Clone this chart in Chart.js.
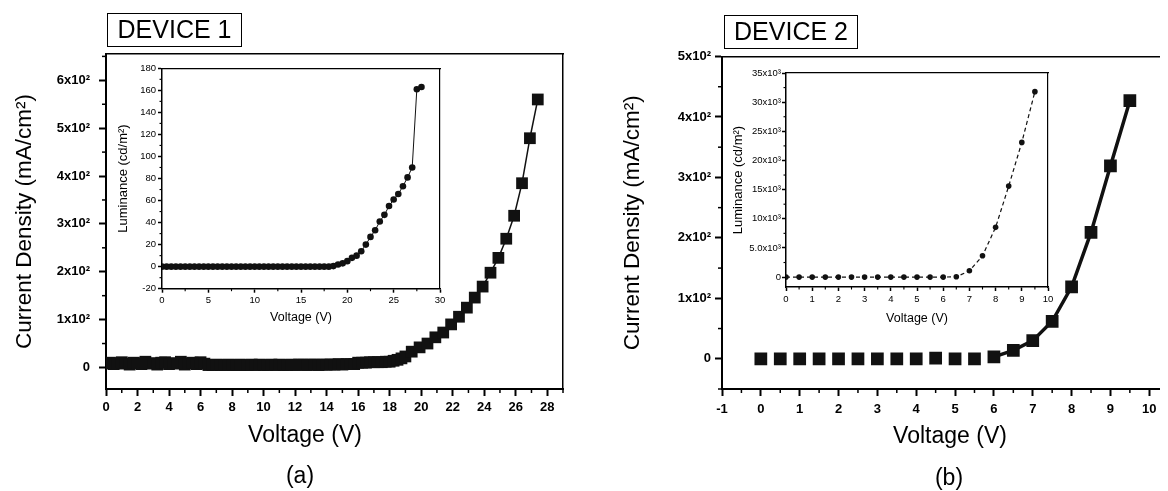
<!DOCTYPE html>
<html>
<head>
<meta charset="utf-8">
<title>Device 1 / Device 2 J-V and L-V</title>
<script src="https://cdn.jsdelivr.net/npm/chart.js@4.4.0/dist/chart.umd.min.js"></script>
<style>
html, body { margin: 0; padding: 0; background: #fff; }
body { width: 1168px; height: 491px; position: relative; overflow: hidden;
       font-family: "Liberation Sans", Arial, sans-serif; color: #000; }
canvas { position: absolute; }
.tag { position: absolute; box-sizing: border-box; border: 1.5px solid #000;
       font-size: 25px; text-align: center; line-height: 31px; }
.lbl { position: absolute; font-size: 23px; line-height: 1; white-space: nowrap;
       transform: translate(-50%, -50%); }
</style>
</head>
<body>
<canvas id="main1" width="580" height="491" style="left:0;top:0"></canvas>
<canvas id="inset1" width="355" height="280" style="left:100px;top:55px"></canvas>
<canvas id="main2" width="578" height="491" style="left:590px;top:0"></canvas>
<canvas id="inset2" width="345" height="275" style="left:720px;top:60px"></canvas>

<div class="tag" style="left:107px;top:13px;width:135px;height:34px">DEVICE 1</div>
<div class="tag" style="left:724px;top:15px;width:134px;height:34px">DEVICE 2</div>
<div class="lbl" style="left:305px;top:434px">Voltage (V)</div>
<div class="lbl" style="left:300px;top:475px">(a)</div>
<div class="lbl" style="left:950px;top:435px">Voltage (V)</div>
<div class="lbl" style="left:949px;top:477px">(b)</div>

<script>
// ---- device 1, current density vs voltage (main plot a)
const dev1Volt = [
  0, 0.25, 0.5, 0.75, 1, 1.25, 1.5, 1.75, 2, 2.25, 2.5, 2.75, 3, 3.25, 3.5, 3.75,
  4, 4.25, 4.5, 4.75, 5, 5.25, 5.5, 5.75, 6, 6.25,
  6.5, 6.75, 7, 7.25, 7.5, 7.75, 8, 8.25, 8.5, 8.75, 9, 9.25, 9.5, 9.75,
  10, 10.25, 10.5, 10.75, 11, 11.25, 11.5, 11.75, 12, 12.25, 12.5, 12.75,
  13, 13.25, 13.5, 13.75, 14, 14.25, 14.5, 14.75, 15, 15.25, 15.5, 15.75,
  16, 16.25, 16.5, 16.75, 17, 17.25, 17.5, 17.75, 18, 18.25, 18.5, 18.75, 19,
  19.4, 19.9, 20.4, 20.9, 21.4, 21.9, 22.4, 22.9, 23.4, 23.9, 24.4, 24.9,
  25.4, 25.9, 26.4, 26.9, 27.4
];
const dev1Current = [
  8, 10, 7, 9, 11, 8, 6, 10, 9, 7, 12, 8, 9, 6, 10, 11,
  7, 9, 8, 12, 6, 9, 10, 7, 11, 8,
  5, 5, 6, 5, 5, 6, 5, 5, 6, 5, 5, 6, 5, 6,
  5, 5, 6, 5, 6, 5, 5, 6, 5, 6, 6, 5,
  6, 6, 5, 6, 6, 6, 6, 7, 6, 7, 7, 7,
  10, 10, 10, 11, 11, 11, 11, 12, 12, 14, 16, 19, 23,
  33, 42, 50, 63, 73, 90, 106, 125, 146, 169, 198, 229,
  269, 317, 385, 479, 560
];
const dev1XTicks = [0, 2, 4, 6, 8, 10, 12, 14, 16, 18, 20, 22, 24, 26, 28];
const dev1YTicks = [0, 100, 200, 300, 400, 500, 600];
const dev1YLabels = ['0', '1x10\u00b2', '2x10\u00b2', '3x10\u00b2', '4x10\u00b2', '5x10\u00b2', '6x10\u00b2'];

// ---- device 1, luminance inset
const dev1LumVolt = [
  0, 0.5, 1, 1.5, 2, 2.5, 3, 3.5, 4, 4.5, 5, 5.5, 6, 6.5, 7, 7.5, 8, 8.5, 9, 9.5,
  10, 10.5, 11, 11.5, 12, 12.5, 13, 13.5, 14, 14.5, 15, 15.5, 16, 16.5, 17, 17.5, 18,
  18.5, 19, 19.5, 20, 20.5, 21, 21.5, 22, 22.5, 23, 23.5, 24, 24.5, 25, 25.5,
  26, 26.5, 27, 27.5, 28
];
const dev1Lum = [
  0, 0, 0, 0, 0, 0, 0, 0, 0, 0, 0, 0, 0, 0, 0, 0, 0, 0, 0, 0,
  0, 0, 0, 0, 0, 0, 0, 0, 0, 0, 0, 0, 0, 0, 0, 0, 0,
  0.5, 2, 3, 5, 8, 10, 14, 20, 27, 33, 41, 47, 55, 61, 66,
  73, 81, 90, 161, 163
];
const dev1LumXTicks = [0, 5, 10, 15, 20, 25, 30];
const dev1LumYTicks = [-20, 0, 20, 40, 60, 80, 100, 120, 140, 160, 180];

// ---- device 2, current density vs voltage (main plot b)
const dev2Volt = [0, 0.5, 1, 1.5, 2, 2.5, 3, 3.5, 4, 4.5, 5, 5.5, 6, 6.5, 7, 7.5, 8, 8.5, 9, 9.5];
const dev2Current = [0, 0, 0, 0, 0, 0, 0, 0, 0, 1, 0, 0, 3, 14, 30, 62, 119, 209, 319, 427];
const dev2XTicks = [-1, 0, 1, 2, 3, 4, 5, 6, 7, 8, 9, 10];
const dev2YTicks = [0, 100, 200, 300, 400, 500];
const dev2YLabels = ['0', '1x10\u00b2', '2x10\u00b2', '3x10\u00b2', '4x10\u00b2', '5x10\u00b2'];

// ---- device 2, luminance inset
const dev2LumVolt = [0, 0.5, 1, 1.5, 2, 2.5, 3, 3.5, 4, 4.5, 5, 5.5, 6, 6.5, 7, 7.5, 8, 8.5, 9, 9.5];
const dev2Lum = [0, 0, 0, 0, 0, 0, 0, 0, 0, 0, 0, 0, 0, 50, 1080, 3650, 8530, 15600, 23100, 31800];
const dev2LumXTicks = [0, 1, 2, 3, 4, 5, 6, 7, 8, 9, 10];
const dev2LumYTicks = [0, 5000, 10000, 15000, 20000, 25000, 30000, 35000];
const dev2LumYLabels = ['0', '5.0x10\u00b3', '10x10\u00b3', '15x10\u00b3', '20x10\u00b3', '25x10\u00b3', '30x10\u00b3', '35x10\u00b3'];

Chart.defaults.font.family = '"Liberation Sans", Arial, sans-serif';
Chart.defaults.color = '#000';

const toPoints = (xs, ys) => xs.map((v, i) => ({ x: v, y: ys[i] }));

// origin style minor ticks, drawn between the majors
const minorTicks = {
  id: 'minorTicks',
  afterDraw(chart, args, opts) {
    const ctx = chart.ctx;
    const area = chart.chartArea;
    ctx.save();
    ctx.strokeStyle = '#000';
    ctx.lineWidth = opts.width;
    ['x', 'y'].forEach(id => {
      const step = opts[id];
      if (!step) return;
      const scale = chart.scales[id];
      const major = scale.ticks.map(t => t.value);
      const n0 = Math.ceil(scale.min / step - 1e-9);
      const n1 = Math.floor(scale.max / step + 1e-9);
      for (let i = n0; i <= n1; i++) {
        const v = i * step;
        if (major.some(m => Math.abs(m - v) < step / 10)) continue;
        const p = scale.getPixelForValue(v);
        ctx.beginPath();
        if (id === 'x') {
          ctx.moveTo(p, area.bottom);
          ctx.lineTo(p, area.bottom + opts.len);
        } else {
          ctx.moveTo(area.left, p);
          ctx.lineTo(area.left - opts.len, p);
        }
        ctx.stroke();
      }
    });
    ctx.restore();
  }
};

// top / right frame lines
function frameAxis(pos, width) {
  return {
    type: 'linear',
    position: pos,
    display: true,
    ticks: { display: false },
    grid: { display: false, drawTicks: false },
    border: { display: true, color: '#000', width: width },
    afterFit: s => { if (pos === 'top') s.height = 0; else s.width = 0; }
  };
}

function makeChart(id, cfg) {
  const tickFont = { size: cfg.tickSize, weight: cfg.tickWeight || 'normal' };
  const scales = {
    x: {
      type: 'linear',
      min: cfg.xMin, max: cfg.xMax,
      afterBuildTicks: s => { s.ticks = cfg.xTicks.map(v => ({ value: v })); },
      afterFit: s => { s.height = cfg.xH; },
      ticks: { font: tickFont, padding: cfg.xPad, maxRotation: 0,
               callback: v => String(v) },
      grid: { drawOnChartArea: false, drawTicks: true, tickLength: cfg.tickLen,
              tickWidth: cfg.axisW, tickColor: '#000' },
      border: { display: true, color: '#000', width: cfg.axisW },
      title: cfg.xTitle ? { display: true, text: cfg.xTitle, font: { size: cfg.xTitleSize },
               padding: { top: 0, bottom: cfg.xTitlePad } } : { display: false }
    },
    y: {
      type: 'linear',
      min: cfg.yMin, max: cfg.yMax,
      afterBuildTicks: s => { s.ticks = cfg.yTicks.map(v => ({ value: v })); },
      afterFit: s => { s.width = cfg.yW; },
      ticks: { font: tickFont, padding: cfg.yPad,
               callback: (v, i) => cfg.yLabels ? cfg.yLabels[i] : String(v) },
      grid: { drawOnChartArea: false, drawTicks: true, tickLength: cfg.tickLen,
              tickWidth: cfg.axisW, tickColor: '#000' },
      border: { display: true, color: '#000', width: cfg.axisW },
      title: { display: true, text: cfg.yTitle, font: { size: cfg.yTitleSize },
               padding: { top: cfg.yTitlePad, bottom: 0 } }
    },
    x2: frameAxis('top', cfg.frameW)
  };
  if (cfg.rightFrame) scales.y2 = frameAxis('right', cfg.frameW);

  return new Chart(document.getElementById(id), {
    type: 'line',
    data: { datasets: [cfg.dataset] },
    options: {
      responsive: false,
      animation: false,
      events: [],
      layout: { padding: cfg.padding },
      plugins: {
        legend: { display: false },
        tooltip: { enabled: false },
        minorTicks: { x: cfg.xMinor, y: cfg.yMinor, len: cfg.minorLen, width: cfg.axisW * 0.75 }
      },
      scales: scales
    },
    plugins: [minorTicks]
  });
}

// (a) device 1
makeChart('main1', {
  xMin: 0, xMax: 29, yMin: -45, yMax: 655,
  xTicks: dev1XTicks, yTicks: dev1YTicks, yLabels: dev1YLabels,
  xMinor: 1, yMinor: 50,
  xH: 102, yW: 106, padding: { top: 54, right: 17, left: 0, bottom: 0 },
  tickSize: 13, tickWeight: 'bold', tickLen: 7, minorLen: 4, axisW: 2, frameW: 1.5,
  xPad: 4, yPad: 9,
  yTitle: 'Current Density (mA/cm\u00b2)', yTitleSize: 22.5, yTitlePad: 11,
  rightFrame: true,
  dataset: {
    data: toPoints(dev1Volt, dev1Current),
    borderColor: '#111', borderWidth: 1.5,
    pointStyle: 'rect', pointRadius: 8.3,
    pointBackgroundColor: '#111', pointBorderColor: '#111', pointBorderWidth: 0,
    tension: 0
  }
});

makeChart('inset1', {
  xMin: 0, xMax: 30, yMin: -20, yMax: 180,
  xTicks: dev1LumXTicks, yTicks: dev1LumYTicks,
  xMinor: 2.5, yMinor: 10,
  xH: 46.3, yW: 62, padding: { top: 13.3, right: 15, left: 0, bottom: 0 },
  tickSize: 9.5, tickLen: 4, minorLen: 2.5, axisW: 1.5, frameW: 1.2,
  xPad: 2, yPad: 2,
  xTitle: 'Voltage (V)', xTitleSize: 12.5, xTitlePad: 9.5,
  yTitle: 'Luminance (cd/m\u00b2)', yTitleSize: 13, yTitlePad: 15.2,
  rightFrame: true,
  dataset: {
    data: toPoints(dev1LumVolt, dev1Lum),
    borderColor: '#111', borderWidth: 1,
    pointStyle: 'circle', pointRadius: 3.3,
    pointBackgroundColor: '#111', pointBorderColor: '#111', pointBorderWidth: 0,
    tension: 0
  }
});

// (b) device 2
makeChart('main2', {
  xMin: -1, xMax: 10.25, yMin: -50, yMax: 500,
  xTicks: dev2XTicks, yTicks: dev2YTicks, yLabels: dev2YLabels,
  xMinor: 0.5, yMinor: 50,
  xH: 102, yW: 132, padding: { top: 56.5, right: 0, left: 0, bottom: 0 },
  tickSize: 13, tickWeight: 'bold', tickLen: 7, minorLen: 4, axisW: 2, frameW: 1.5,
  xPad: 6, yPad: 4,
  yTitle: 'Current Density (mA/cm\u00b2)', yTitleSize: 22.5, yTitlePad: 28.8,
  rightFrame: false,
  dataset: {
    data: toPoints(dev2Volt, dev2Current),
    borderColor: '#111', borderWidth: 3.5,
    segment: {
      borderColor: c => (c.p0.parsed.y < 5 && c.p1.parsed.y < 5) ? 'rgba(0,0,0,0)' : '#111'
    },
    pointStyle: 'rect', pointRadius: 9,
    pointBackgroundColor: '#111', pointBorderColor: '#111', pointBorderWidth: 0,
    tension: 0
  }
});

makeChart('inset2', {
  xMin: 0, xMax: 10, yMin: -1700, yMax: 35000,
  xTicks: dev2LumXTicks, yTicks: dev2LumYTicks, yLabels: dev2LumYLabels,
  xMinor: 0.5, yMinor: 2500,
  xH: 48, yW: 66, padding: { top: 13, right: 17, left: 0, bottom: 0 },
  tickSize: 9.5, tickLen: 4, minorLen: 2.5, axisW: 1.5, frameW: 1.2,
  xPad: 3, yPad: 1,
  xTitle: 'Voltage (V)', xTitleSize: 12.5, xTitlePad: 8.5,
  yTitle: 'Luminance (cd/m\u00b2)', yTitleSize: 13, yTitlePad: 10.2,
  rightFrame: true,
  dataset: {
    data: toPoints(dev2LumVolt, dev2Lum),
    borderColor: '#111', borderWidth: 1.2, borderDash: [4, 3],
    pointStyle: 'circle', pointRadius: 2.8,
    pointBackgroundColor: '#111', pointBorderColor: '#111', pointBorderWidth: 0,
    tension: 0
  }
});
</script>
</body>
</html>
